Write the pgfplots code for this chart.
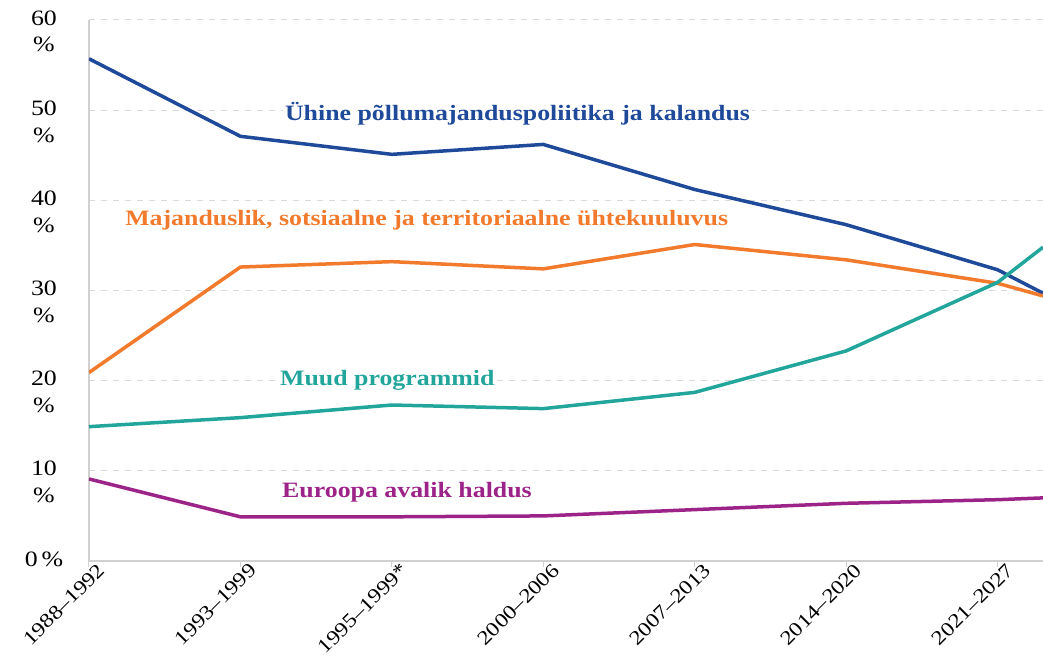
\documentclass[border=0pt]{standalone}
\usepackage{fontspec}
\setmainfont{Liberation Serif}
\newfontfamily\wide[FakeStretch=1.18]{Liberation Serif}
\usepackage{pgfplots}
\pgfplotsset{compat=1.18}
\definecolor{cblue}{HTML}{1F4A9A}
\definecolor{corange}{HTML}{F27A2C}
\definecolor{cteal}{HTML}{22A59B}
\definecolor{cpurple}{HTML}{9C2388}
\definecolor{axgray}{HTML}{D0D0D0}
\definecolor{gridgray}{HTML}{DADADA}
\begin{document}
\begin{tikzpicture}
\useasboundingbox (-89bp,-100bp) rectangle (954bp,561bp);
\begin{axis}[
  at={(0,0)}, anchor=south west,
  scale only axis, width=954bp, height=541bp,
  xmin=0, xmax=6.3, ymin=0, ymax=60,
  axis lines*=left,
  axis line style={draw=axgray, line width=1.5bp},
  xtick={0,...,6},
  xticklabels={1988–1992,1993–1999,1995–1999*,2000–2006,2007–2013,2014–2020,2021–2027},
  xticklabel style={rotate=45, anchor=north east, font=\wide\fontsize{20}{20}\selectfont, inner sep=1bp, xshift=10bp, yshift=-1bp},
  x tick style={draw=axgray, line width=1bp},
  tick align=outside, major tick length=6bp,
  ytick={0,10,20,30,40,50,60},
  yticklabels={{0\,\%},{10\\\%},{20\\\%},{30\\\%},{40\\\%},{50\\\%},{60\\\%}},
  y tick style={draw=none},
  yticklabel style={align=center, anchor=north, xshift=-39bp, yshift=13bp, font=\wide\fontsize{22}{27}\selectfont},
  ymajorgrids,
  grid style={dashed, dash pattern=on 6bp off 6bp, draw=gridgray, line width=1bp},
  clip=true,
  every axis plot/.append style={line width=3.5bp, line join=round, no markers},
]
\addplot[cblue] coordinates {(0,55.7) (1,47.1) (2,45.1) (3,46.2) (4,41.2) (5,37.3) (6,32.3) (6.3,29.7)};
\addplot[corange] coordinates {(0,20.9) (1,32.6) (2,33.2) (3,32.4) (4,35.1) (5,33.4) (6,30.8) (6.3,29.4)};
\addplot[cteal] coordinates {(0,14.9) (1,15.9) (2,17.3) (3,16.9) (4,18.7) (5,23.3) (6,30.9) (6.3,34.8)};
\addplot[cpurple] coordinates {(0,9.1) (1,4.9) (2,4.9) (3,5.0) (4,5.7) (5,6.4) (6,6.8) (6.3,7.0)};
\node[font=\wide\bfseries\fontsize{22}{22}\selectfont, text=cblue, fill=white, inner sep=2bp] at (axis cs:2.83,49.6) {Ühine põllumajanduspoliitika ja kalandus};
\node[font=\wide\bfseries\fontsize{22}{22}\selectfont, text=corange, fill=white, inner sep=2bp] at (axis cs:2.23,37.8) {Majanduslik, sotsiaalne ja territoriaalne ühtekuuluvus};
\node[font=\wide\bfseries\fontsize{22}{22}\selectfont, text=cteal, fill=white, inner sep=2bp] at (axis cs:1.97,20.0) {Muud programmid};
\node[font=\wide\bfseries\fontsize{22}{22}\selectfont, text=cpurple, fill=white, inner sep=2bp] at (axis cs:2.10,7.6) {Euroopa avalik haldus};
\end{axis}
\end{tikzpicture}
\end{document}
